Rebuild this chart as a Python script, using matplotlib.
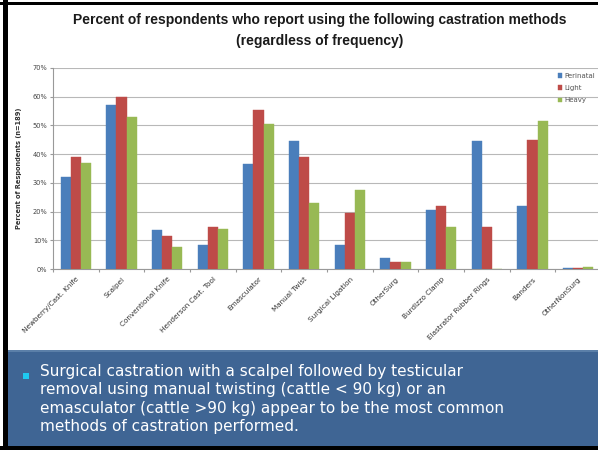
import matplotlib
matplotlib.use("Agg")
import matplotlib.pyplot as plt
import numpy as np
from matplotlib.patches import Rectangle

categories = ["Newberry/Cast. Knife", "Scalpel", "Conventional Knife", "Henderson Cast. Tool",
              "Emasculator", "Manual Twist", "Surgical Ligation", "OtherSurg",
              "Burdizzo Clamp", "Elastrator Rubber Rings", "Banders", "OtherNonSurg"]
perinatal = [32, 57, 13.5, 8.5, 36.5, 44.5, 8.5, 4, 20.5, 44.5, 22, 0.3]
light = [39, 60, 11.5, 14.5, 55.5, 39, 19.5, 2.5, 22, 14.5, 45, 0.3]
heavy = [37, 53, 7.5, 14, 50.5, 23, 27.5, 2.5, 14.5, 0, 51.5, 0.8]
series_names = ["Perinatal", "Light", "Heavy"]
colors = ["#4a7ebb", "#be4b48", "#98b954"]
yticks = [0, 10, 20, 30, 40, 50, 60, 70]

W, H = 598, 450
fig = plt.figure(figsize=(W / 100, H / 100), dpi=100)
fig.patch.set_facecolor("white")

# blue band
band = fig.add_axes([8 / W, 1 - 446 / H, 1 - 8 / W, (446 - 350) / H])
band.set_xlim(0, 1); band.set_ylim(0, 1); band.axis("off")
band.add_patch(Rectangle((0, 0), 1, 1, facecolor="#3f6594", edgecolor="none", transform=band.transAxes))
band.add_patch(Rectangle((0.0, 0.975), 1, 0.03, facecolor="#5b7fa8", edgecolor="none", transform=band.transAxes))

# black frame
fig.add_artist(Rectangle((3 / W, 0), 5 / W, 1, facecolor="black", edgecolor="none", transform=fig.transFigure))
fig.add_artist(Rectangle((0, 1 - 5 / H), 1, 3 / H, facecolor="black", edgecolor="none", transform=fig.transFigure))
fig.add_artist(Rectangle((0, 0), 1, 4 / H, facecolor="black", edgecolor="none", transform=fig.transFigure))

# bullet
fig.add_artist(Rectangle((23 / W, 1 - 379 / H), 6 / W, 6 / H, facecolor="#1ec8f0", edgecolor="none",
                         transform=fig.transFigure))
body = ("Surgical castration with a scalpel followed by testicular\n"
        "removal using manual twisting (cattle < 90 kg) or an\n"
        "emasculator (cattle >90 kg) appear to be the most common\n"
        "methods of castration performed.")
fig.text(40 / W, 1 - 364 / H, body, color="white", fontsize=11.0, ha="left", va="top",
         family="DejaVu Sans", linespacing=1.28, multialignment="left", zorder=10)

# chart
left, right = 53, 601
ax = fig.add_axes([left / W, 1 - 269 / H, (right - left) / W, (269 - 68) / H])
x = np.arange(len(categories))
bw = 0.22
for i, (vals, name, c) in enumerate(zip([perinatal, light, heavy], series_names, colors)):
    ax.bar(x + (i - 1) * bw, vals, width=bw, color=c, label=name, zorder=3,
           edgecolor=c, linewidth=0.3)
ax.set_xlim(-0.5, len(categories) - 0.5)
ax.set_ylim(0, 70)
ax.set_yticks(yticks)
ax.set_yticklabels([f"{v}%" for v in yticks], fontsize=4.8, color="#444444")
ax.yaxis.grid(True, color="#b8b8b8", linewidth=0.8, zorder=0)
ax.set_xticks(np.arange(len(categories) + 1) - 0.5, minor=False)
ax.set_xticklabels([])
ax.set_xticks(x, minor=True)
ax.set_xticklabels(categories, minor=True, rotation=45, ha="right", va="top",
                   fontsize=5.2, color="#333333", rotation_mode="anchor")
ax.tick_params(axis="x", which="minor", length=0, pad=5)
ax.tick_params(axis="x", which="major", length=2, color="#999999")
ax.tick_params(axis="y", length=2, color="#999999", pad=2)
for s in ["top", "right"]:
    ax.spines[s].set_visible(False)
for s in ["left", "bottom"]:
    ax.spines[s].set_color("#999999")
    ax.spines[s].set_linewidth(0.8)
ax.set_ylabel("Percent of Respondents (n=189)", fontsize=4.8, fontweight="bold", color="#333333",
              labelpad=8)
leg = ax.legend(loc="upper left", bbox_to_anchor=(500 / (right - left) + 0.0, 1.0),
                frameon=False, fontsize=5, handlelength=0.6, handleheight=0.6,
                handletextpad=0.3, labelspacing=0.9, borderaxespad=0.3)
for t in leg.get_texts():
    t.set_color("#555555")

fig.text(320 / W, 1 - 20 / H, "Percent of respondents who report using the following castration methods",
         fontsize=10, fontweight="bold", ha="center", va="center", color="#1a1a1a",
         family="Liberation Sans")
fig.text(320 / W, 1 - 41 / H, "(regardless of frequency)",
         fontsize=10, fontweight="bold", ha="center", va="center", color="#1a1a1a",
         family="Liberation Sans")

fig.savefig("out.png", dpi=100)
